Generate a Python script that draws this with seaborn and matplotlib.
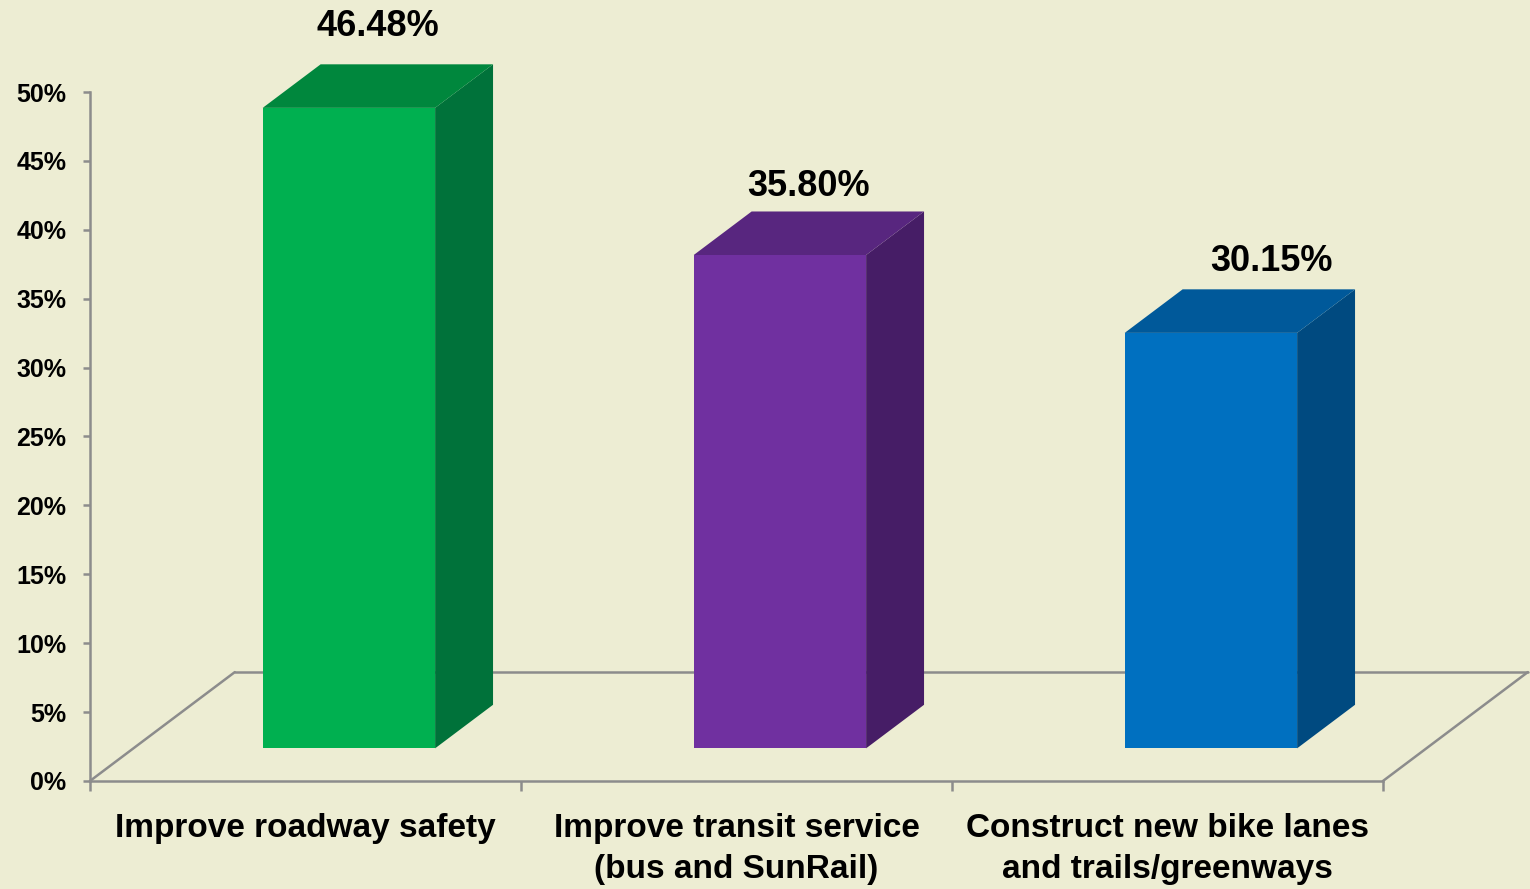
import matplotlib.pyplot as plt
import seaborn as sns
from matplotlib.patches import Polygon

# Data
categories = [
    "Improve roadway safety",
    "Improve transit service\n(bus and SunRail)",
    "Construct new bike lanes\nand trails/greenways",
]
values = [46.48, 35.80, 30.15]
value_labels = ["46.48%", "35.80%", "30.15%"]
y_ticks = [0, 5, 10, 15, 20, 25, 30, 35, 40, 45, 50]
y_tick_labels = [f"{t}%" for t in y_ticks]

# Colours: front, top and side faces of each column
front_colors = ["#00B050", "#7030A0", "#0070C0"]
top_colors = ["#00873D", "#58267F", "#00599A"]
side_colors = ["#00723A", "#461D66", "#004A80"]

# small nudges for the value labels (points), like in the original
label_nudge = [(0, 27), (0, 18), (23, 20)]

bg = "#EDEDD3"
gray = "#8C8C8C"

sns.set_theme(style="white")
plt.rcParams["font.family"] = ["Liberation Sans", "DejaVu Sans"]
plt.rcParams["font.weight"] = "bold"
plt.rcParams["text.color"] = "black"
plt.rcParams["xtick.color"] = "black"
plt.rcParams["ytick.color"] = "black"

fig = plt.figure(figsize=(15.3, 8.89), dpi=100, facecolor=bg)
ax = fig.add_axes([0.0588, 0.1215, 0.8451, 0.775])
ax.set_facecolor(bg)

sns.barplot(
    x=categories,
    y=values,
    hue=categories,
    palette=front_colors,
    saturation=1,
    width=0.4,
    linewidth=0,
    legend=False,
    ax=ax,
)

# fake 3d depth (in data units)
dx, dy = 0.336, 7.9
f0, f1 = 0.3, 0.7
ddx, ddy = (f1 - f0) * dx, (f1 - f0) * dy

# floor
floor_kw = dict(color=gray, lw=1.8, clip_on=False, zorder=1, solid_capstyle="round")
ax.plot([-0.5, -0.5 + dx], [0, dy], **floor_kw)
ax.plot([2.5, 2.5 + dx], [0, dy], **floor_kw)
ax.plot([-0.5 + dx, 2.5 + dx], [dy, dy], **floor_kw)

bars = sorted(ax.patches, key=lambda p: p.get_x())
for bar, label, nudge, top_c, side_c in zip(bars, value_labels, label_nudge, top_colors, side_colors):
    w = bar.get_width()
    h = bar.get_height()
    xl = bar.get_x() + f0 * dx
    xr = xl + w
    yb = f0 * dy
    yt = h + yb
    bar.set_x(xl)
    bar.set_y(yb)
    bar.set_zorder(3)
    bar.set_clip_on(False)

    side = Polygon(
        [(xr, yb), (xr, yt), (xr + ddx, yt + ddy), (xr + ddx, yb + ddy)],
        facecolor=side_c, edgecolor="none", zorder=2, clip_on=False,
    )
    top = Polygon(
        [(xl, yt), (xr, yt), (xr + ddx, yt + ddy), (xl + ddx, yt + ddy)],
        facecolor=top_c, edgecolor="none", zorder=2, clip_on=False,
    )
    ax.add_patch(side)
    ax.add_patch(top)

    ax.annotate(
        label,
        (xl + w / 2 + ddx / 2, yt + ddy),
        xytext=nudge,
        textcoords="offset points",
        ha="center",
        va="center",
        fontsize=26,
        fontweight="bold",
        annotation_clip=False,
    )

# axes
ax.set_xlim(-0.5, 2.5)
ax.set_ylim(0, 50)
ax.set_yticks(y_ticks, y_tick_labels)
ax.set_xticks([0, 1, 2], categories)
ax.set_xticks([-0.5, 0.5, 1.5, 2.5], minor=True)
ax.set_xlabel("")
ax.set_ylabel("")

ax.tick_params(axis="x", which="major", length=0, pad=23, labelsize=24, bottom=True)
ax.tick_params(axis="x", which="minor", length=7, width=1.8, color=gray, bottom=True)
ax.tick_params(axis="y", length=5, width=1.8, color=gray, pad=12, labelsize=18, left=True)
for t in ax.get_xticklabels():
    t.set_linespacing(1.4)

sns.despine(ax=ax)
for s in ["left", "bottom"]:
    ax.spines[s].set_color(gray)
    ax.spines[s].set_linewidth(1.8)
    ax.spines[s].set_zorder(1)

fig.savefig("out.png", dpi=100, facecolor=bg)
